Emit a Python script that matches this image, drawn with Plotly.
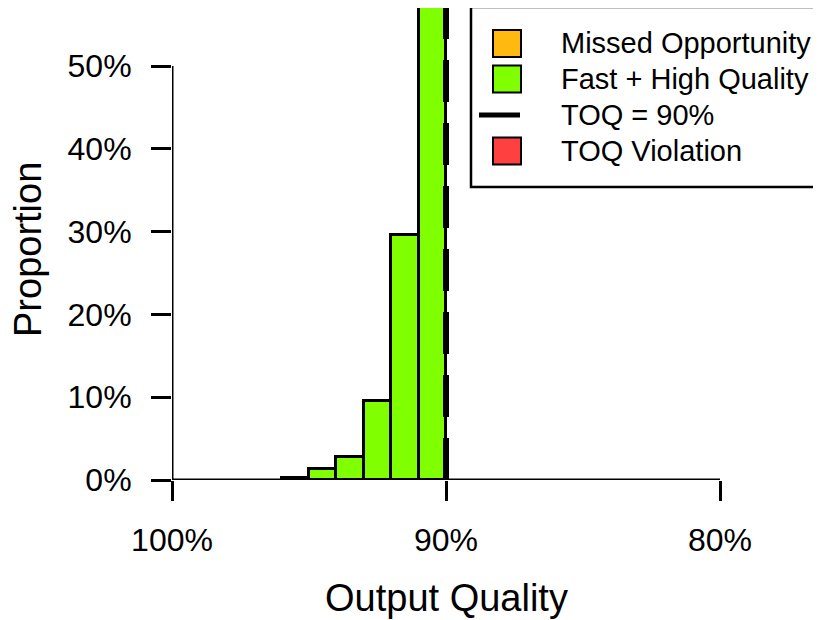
import plotly.graph_objects as go

# ---- data ----
bin_centers = [95.5, 94.5, 93.5, 92.5, 91.5, 90.5]      # Output Quality bins (%), width 1
proportions = [0.25, 1.3, 2.75, 9.55, 29.6, 58.0]        # Proportion (%)
bin_width = 1.0
toq = 90
x_ticks = [100, 90, 80]
x_tick_labels = ["100%", "90%", "80%"]
y_ticks = [0, 10, 20, 30, 40, 50]
y_tick_labels = ["0%", "10%", "20%", "30%", "40%", "50%"]
legend_labels = ["Missed Opportunity", "Fast + High Quality", "TOQ = 90%", "TOQ Violation"]
legend_colors = ["#FFB90F", "#7FFF00", "#000000", "#FF4040"]
legend_kinds = ["box", "box", "line", "box"]

OFF = 8                      # default page body margin
W, H = 821 - OFF, 620 - OFF
# plot area in page pixels
L, R, T, B = 172, 720, 8, 480
FONT = "Liberation Sans, Arial, Helvetica, sans-serif"


def px(xp):
    return (xp - L) / (R - L)


def py(yp):
    return (B - yp) / (B - T)


fig = go.Figure()
fig.add_trace(go.Bar(
    x=bin_centers, y=proportions, width=bin_width,
    marker=dict(color=legend_colors[1], line=dict(color="black", width=3)),
    showlegend=False, hoverinfo="skip",
))

shapes = []
# axis lines spanning tick range (R style)
shapes.append(dict(type="line", xref="x", yref="y", x0=x_ticks[0], x1=x_ticks[-1],
                   y0=y_ticks[0], y1=y_ticks[0], line=dict(color="black", width=3)))
shapes.append(dict(type="line", xref="x", yref="y", x0=x_ticks[0], x1=x_ticks[0],
                   y0=y_ticks[0], y1=y_ticks[-1], line=dict(color="black", width=3)))
# TOQ dashed line
shapes.append(dict(type="line", xref="x", yref="y domain", x0=toq, x1=toq, y0=0, y1=1,
                   line=dict(color="black", width=6, dash="42px,21px"), layer="above"))

# manual legend
shapes.append(dict(type="rect", xref="paper", yref="paper", x0=px(471), x1=px(840),
                   y0=py(187), y1=py(7), line=dict(color="black", width=2.5),
                   fillcolor="white", layer="above"))
row_y = [43.5, 79, 115, 151]
annotations = []
for lab, col, kind, yc in zip(legend_labels, legend_colors, legend_kinds, row_y):
    if kind == "box":
        shapes.append(dict(type="rect", xref="paper", yref="paper", x0=px(493), x1=px(521),
                           y0=py(yc + 13.5), y1=py(yc - 13.5), fillcolor=col,
                           line=dict(color="black", width=2), layer="above"))
    else:
        shapes.append(dict(type="line", xref="paper", yref="paper", x0=px(479), x1=px(520),
                           y0=py(yc), y1=py(yc), line=dict(color=col, width=5), layer="above"))
    annotations.append(dict(text=lab, xref="paper", yref="paper", x=px(559), y=py(yc),
                            xanchor="left", yanchor="middle", showarrow=False,
                            font=dict(family=FONT, size=29, color="black")))

annotations.append(dict(text="Output Quality", xref="paper", yref="paper",
                        x=px(446), y=py(598), xanchor="center", yanchor="middle",
                        showarrow=False, font=dict(family=FONT, size=38, color="black")))
annotations.append(dict(text="Proportion", xref="paper", yref="paper",
                        x=px(28), y=py(250), xanchor="center", yanchor="middle", textangle=-90,
                        showarrow=False, font=dict(family=FONT, size=38, color="black")))

fig.update_layout(
    width=W, height=H,
    margin=dict(l=L - OFF, r=W - (R - OFF), t=T - OFF, b=H - (B - OFF), pad=0),
    paper_bgcolor="white", plot_bgcolor="white",
    bargap=0, showlegend=False,
    shapes=shapes, annotations=annotations,
    font=dict(family=FONT, size=32, color="black"),
)
fig.update_xaxes(range=[100, 80], tickvals=x_ticks, ticktext=x_tick_labels,
                 ticks="outside", ticklen=20, tickwidth=3, tickcolor="black",
                 showgrid=False, zeroline=False, showline=False,
                 tickfont=dict(family=FONT, size=32, color="black"), ticklabelstandoff=12)
fig.update_yaxes(range=[0, (B - T) / 82.8 * 10], tickvals=y_ticks, ticktext=y_tick_labels,
                 ticks="outside", ticklen=20, tickwidth=3, tickcolor="black",
                 showgrid=False, zeroline=False, showline=False,
                 tickfont=dict(family=FONT, size=32, color="black"), ticklabelstandoff=13)

fig.write_html("out.html")
